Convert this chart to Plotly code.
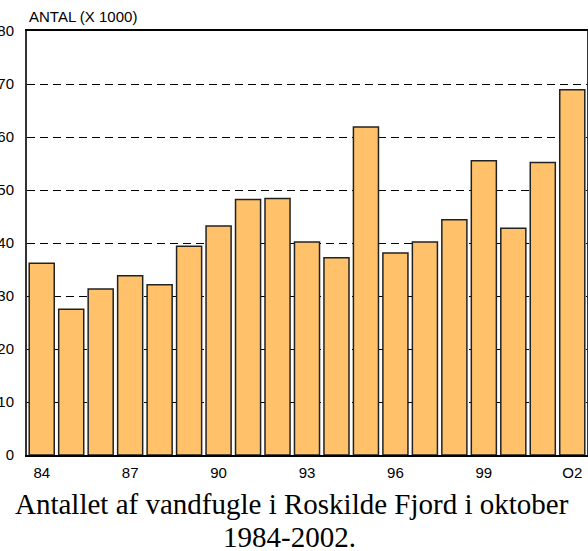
import plotly.graph_objects as go

years = list(range(1984, 2003))
values = [36.2, 27.5, 31.3, 33.8, 32.1, 39.4, 43.2, 48.2, 48.4, 40.2,
          37.2, 61.9, 38.1, 40.2, 44.4, 55.5, 42.8, 55.2, 68.9]
x_tickvals = [1984, 1987, 1990, 1993, 1996, 1999, 2002]
x_ticktext = ["84", "87", "90", "93", "96", "99", "O2"]
y_tickvals = [0, 10, 20, 30, 40, 50, 60, 70, 80]
caption_lines = ["Antallet af vandfugle i Roskilde Fjord i oktober", "1984-2002."]

L, R, T, B = 27, 1, 31, 96
PW, PH = 588 - L - R, 551 - T - B

def px_x(px):
    return (px - L) / PW

def px_y(py):
    return (551 - B - py) / PH

fig = go.Figure(go.Bar(
    x=years, y=values,
    marker=dict(color="#FFC26B", line=dict(color="#222222", width=1.5)),
))

fig.update_layout(
    width=588, height=551,
    margin=dict(l=L, r=R, t=T, b=B),
    plot_bgcolor="white", paper_bgcolor="white",
    bargap=0.15,
    showlegend=False,
    font=dict(family="Liberation Sans, Arial", size=15, color="black"),
    xaxis=dict(range=[1983.5, 2002.5], tickvals=x_tickvals, ticktext=x_ticktext,
               showgrid=False, showline=True, linecolor="black", linewidth=2,
               mirror=True, ticks="", ticklabelstandoff=3, zeroline=False,
               automargin=False),
    yaxis=dict(range=[0, 80], tickvals=y_tickvals, showgrid=True,
               gridcolor="black", gridwidth=1.2, griddash="8px,5px",
               showline=True, linecolor="#333333", linewidth=2, mirror=True,
               ticks="", ticklabelstandoff=8, zeroline=False,
               automargin=False),
    annotations=[
        dict(text="ANTAL (X 1000)", xref="paper", yref="paper", x=0, y=1,
             xanchor="left", yanchor="bottom", yshift=4, showarrow=False,
             font=dict(family="Liberation Sans, Arial", size=15)),
        dict(text=caption_lines[0], xref="paper", yref="paper",
             x=px_x(292), y=px_y(504), xanchor="center", yanchor="middle",
             showarrow=False,
             font=dict(family="Liberation Serif, Times New Roman", size=29)),
        dict(text=caption_lines[1], xref="paper", yref="paper",
             x=px_x(289), y=px_y(537), xanchor="center", yanchor="middle",
             showarrow=False,
             font=dict(family="Liberation Serif, Times New Roman", size=29)),
    ],
)

fig.write_html(
    "out.html",
    config={"displayModeBar": False},
    post_script="document.body.style.margin='0';document.body.style.overflow='hidden';",
)
